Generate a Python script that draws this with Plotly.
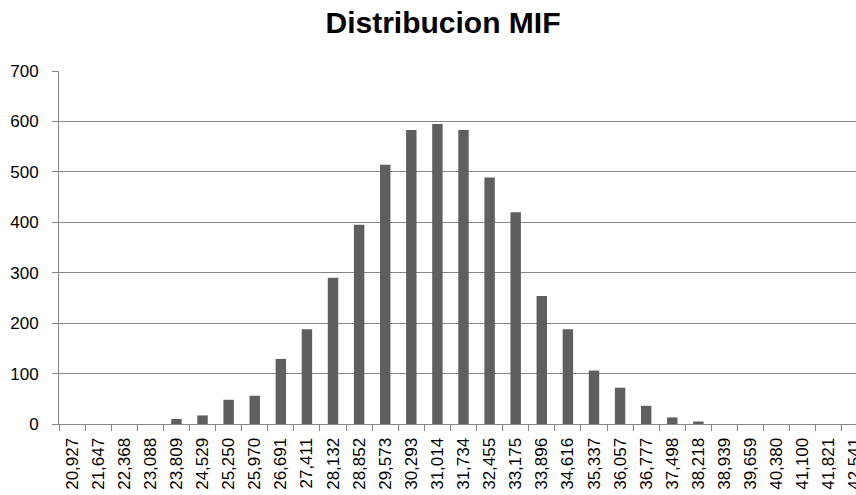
import plotly.graph_objects as go

# Histogram bins (class marks) and their frequencies
bins = ["20,927", "21,647", "22,368", "23,088", "23,809", "24,529", "25,250", "25,970",
        "26,691", "27,411", "28,132", "28,852", "29,573", "30,293", "31,014", "31,734",
        "32,455", "33,175", "33,896", "34,616", "35,337", "36,057", "36,777", "37,498",
        "38,218", "38,939", "39,659", "40,380", "41,100", "41,821", "42,541"]
counts = [0, 0, 0, 0, 10, 17, 48, 56,
          129, 188, 290, 395, 514, 583, 595, 583,
          489, 420, 254, 188, 106, 72, 36, 13,
          5, 0, 0, 0, 0, 0, 0]

y_ticks = [0, 100, 200, 300, 400, 500, 600, 700]

W, H = 856, 495
AXIS_GRAY = "#878787"
FONT = "Liberation Sans, Arial, sans-serif"

fig = go.Figure(
    go.Bar(
        x=bins,
        y=counts,
        marker=dict(color="#5f5f5f", line=dict(width=0)),
        hoverinfo="x+y",
    )
)

fig.update_layout(
    width=W,
    height=H,
    margin=dict(l=59, r=0, t=71, b=71, autoexpand=False),
    paper_bgcolor="white",
    plot_bgcolor="white",
    bargap=0.6,
    showlegend=False,
    font=dict(family=FONT, size=17, color="#000000"),
    title=dict(
        text="<b>Distribucion MIF</b>",
        font=dict(family=FONT, size=30, color="#000000"),
        x=443 / W,
        xanchor="center",
        xref="container",
        y=1 - 12 / H,
        yanchor="top",
        yref="container",
    ),
)

fig.update_xaxes(
    type="category",
    range=[-0.5, 30.04],
    tickangle=-90,
    tickson="boundaries",
    ticks="outside",
    ticklen=6,
    tickcolor=AXIS_GRAY,
    showline=True,
    linecolor=AXIS_GRAY,
    linewidth=1,
    showgrid=False,
    ticklabelstandoff=6,
    tickfont=dict(family=FONT, size=17),
    automargin=False,
    fixedrange=True,
)

fig.update_yaxes(
    range=[0, 700],
    tickvals=y_ticks,
    ticks="outside",
    ticklen=6,
    tickcolor=AXIS_GRAY,
    showline=True,
    linecolor=AXIS_GRAY,
    linewidth=1,
    showgrid=True,
    gridcolor=AXIS_GRAY,
    gridwidth=1,
    zeroline=False,
    ticklabelstandoff=10,
    tickfont=dict(family=FONT, size=17),
    automargin=False,
    fixedrange=True,
)

fig.write_html("out.html")
